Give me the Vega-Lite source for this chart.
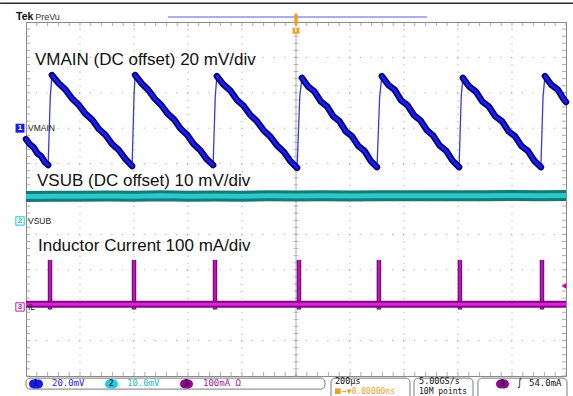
{
 "$schema": "https://vega.github.io/schema/vega-lite/v6.json",
 "width": 540, "height": 354,
 "autosize": {"type": "none"},
 "padding": {"left": 26, "top": 22, "right": 7, "bottom": 20},
 "background": "white",
 "config": {"view": {"stroke": "#8a8a8a", "strokeWidth": 1}, "axis": {"disable": true}, "text": {"font": "Liberation Sans"}},
 "data": {"values": [{}]},
 "datasets": {
  "gridx": [{"t": -800}, {"t": -600}, {"t": -400}, {"t": -200}, {"t": 200}, {"t": 400}, {"t": 600}, {"t": 800}],
  "gridy": [{"v": -4}, {"v": -3}, {"v": -2}, {"v": -1}, {"v": 1}, {"v": 2}, {"v": 3}, {"v": 4}],
  "xminor": [{"t":-1000},{"t":-960},{"t":-920},{"t":-880},{"t":-840},{"t":-800},{"t":-760},{"t":-720},{"t":-680},{"t":-640},{"t":-600},{"t":-560},{"t":-520},{"t":-480},{"t":-440},{"t":-400},{"t":-360},{"t":-320},{"t":-280},{"t":-240},{"t":-200},{"t":-160},{"t":-120},{"t":-80},{"t":-40},{"t":0},{"t":40},{"t":80},{"t":120},{"t":160},{"t":200},{"t":240},{"t":280},{"t":320},{"t":360},{"t":400},{"t":440},{"t":480},{"t":520},{"t":560},{"t":600},{"t":640},{"t":680},{"t":720},{"t":760},{"t":800},{"t":840},{"t":880},{"t":920},{"t":960},{"t":1000}],
  "yminor": [{"v":-5},{"v":-4.8},{"v":-4.6},{"v":-4.4},{"v":-4.2},{"v":-4},{"v":-3.8},{"v":-3.6},{"v":-3.4},{"v":-3.2},{"v":-3},{"v":-2.8},{"v":-2.6},{"v":-2.4},{"v":-2.2},{"v":-2},{"v":-1.8},{"v":-1.6},{"v":-1.4},{"v":-1.2},{"v":-1},{"v":-0.8},{"v":-0.6},{"v":-0.4},{"v":-0.2},{"v":0},{"v":0.2},{"v":0.4},{"v":0.6},{"v":0.8},{"v":1},{"v":1.2},{"v":1.4},{"v":1.6},{"v":1.8},{"v":2},{"v":2.2},{"v":2.4},{"v":2.6},{"v":2.8},{"v":3},{"v":3.2},{"v":3.4},{"v":3.6},{"v":3.8},{"v":4},{"v":4.2},{"v":4.4},{"v":4.6},{"v":4.8},{"v":5}],
  "vmain": [
   {"seg":"r0","part":"ramp","t":-1000,"v":1.69},{"seg":"r0","part":"ramp","t":-986,"v":1.545},{"seg":"r0","part":"ramp","t":-972,"v":1.46},{"seg":"r0","part":"ramp","t":-958,"v":1.29},{"seg":"r0","part":"ramp","t":-944,"v":1.21},{"seg":"r0","part":"ramp","t":-930,"v":1.04},{"seg":"r0","part":"ramp","t":-918,"v":0.96},
   {"seg":"s1","part":"rise","t":-918,"v":0.96},{"seg":"s1","part":"rise","t":-910,"v":2.9},{"seg":"s1","part":"rise","t":-904,"v":3.5},
   {"seg":"r1","part":"ramp","t":-904,"v":3.5},{"seg":"r1","part":"ramp","t":-879,"v":3.27},{"seg":"r1","part":"ramp","t":-854,"v":3.09},{"seg":"r1","part":"ramp","t":-830,"v":2.84},{"seg":"r1","part":"ramp","t":-805,"v":2.66},{"seg":"r1","part":"ramp","t":-780,"v":2.41},{"seg":"r1","part":"ramp","t":-755,"v":2.24},{"seg":"r1","part":"ramp","t":-731,"v":1.98},{"seg":"r1","part":"ramp","t":-706,"v":1.81},{"seg":"r1","part":"ramp","t":-681,"v":1.55},{"seg":"r1","part":"ramp","t":-656,"v":1.38},{"seg":"r1","part":"ramp","t":-632,"v":1.13},{"seg":"r1","part":"ramp","t":-607,"v":0.93},
   {"seg":"s2","part":"rise","t":-607,"v":0.93},{"seg":"s2","part":"rise","t":-600,"v":2.9},{"seg":"s2","part":"rise","t":-596,"v":3.5},
   {"seg":"r2","part":"ramp","t":-596,"v":3.5},{"seg":"r2","part":"ramp","t":-572,"v":3.27},{"seg":"r2","part":"ramp","t":-548,"v":3.09},{"seg":"r2","part":"ramp","t":-524,"v":2.84},{"seg":"r2","part":"ramp","t":-500,"v":2.66},{"seg":"r2","part":"ramp","t":-475,"v":2.41},{"seg":"r2","part":"ramp","t":-451,"v":2.24},{"seg":"r2","part":"ramp","t":-427,"v":1.98},{"seg":"r2","part":"ramp","t":-403,"v":1.81},{"seg":"r2","part":"ramp","t":-379,"v":1.55},{"seg":"r2","part":"ramp","t":-355,"v":1.38},{"seg":"r2","part":"ramp","t":-331,"v":1.13},{"seg":"r2","part":"ramp","t":-307,"v":0.96},
   {"seg":"s3","part":"rise","t":-307,"v":0.96},{"seg":"s3","part":"rise","t":-299,"v":2.9},{"seg":"s3","part":"rise","t":-293,"v":3.47},
   {"seg":"r3","part":"ramp","t":-293,"v":3.47},{"seg":"r3","part":"ramp","t":-268,"v":3.23},{"seg":"r3","part":"ramp","t":-243,"v":3.06},{"seg":"r3","part":"ramp","t":-219,"v":2.8},{"seg":"r3","part":"ramp","t":-194,"v":2.63},{"seg":"r3","part":"ramp","t":-169,"v":2.37},{"seg":"r3","part":"ramp","t":-144,"v":2.19},{"seg":"r3","part":"ramp","t":-120,"v":1.94},{"seg":"r3","part":"ramp","t":-95,"v":1.76},{"seg":"r3","part":"ramp","t":-70,"v":1.51},{"seg":"r3","part":"ramp","t":-45,"v":1.33},{"seg":"r3","part":"ramp","t":-21,"v":1.07},{"seg":"r3","part":"ramp","t":4,"v":0.88},
   {"seg":"s4","part":"rise","t":4,"v":0.88},{"seg":"s4","part":"rise","t":14,"v":2.9},{"seg":"s4","part":"rise","t":22,"v":3.42},
   {"seg":"r4","part":"ramp","t":22,"v":3.42},{"seg":"r4","part":"ramp","t":45,"v":3.175},{"seg":"r4","part":"ramp","t":68,"v":3.035},{"seg":"r4","part":"ramp","t":92,"v":2.755},{"seg":"r4","part":"ramp","t":115,"v":2.615},{"seg":"r4","part":"ramp","t":138,"v":2.335},{"seg":"r4","part":"ramp","t":161,"v":2.195},{"seg":"r4","part":"ramp","t":184,"v":1.915},{"seg":"r4","part":"ramp","t":207,"v":1.775},{"seg":"r4","part":"ramp","t":231,"v":1.495},{"seg":"r4","part":"ramp","t":254,"v":1.355},{"seg":"r4","part":"ramp","t":277,"v":1.075},{"seg":"r4","part":"ramp","t":300,"v":0.9},
   {"seg":"s5","part":"rise","t":300,"v":0.9},{"seg":"s5","part":"rise","t":310,"v":2.9},{"seg":"s5","part":"rise","t":318,"v":3.47},
   {"seg":"r5","part":"ramp","t":318,"v":3.47},{"seg":"r5","part":"ramp","t":342,"v":3.22},{"seg":"r5","part":"ramp","t":366,"v":3.08},{"seg":"r5","part":"ramp","t":389,"v":2.79},{"seg":"r5","part":"ramp","t":413,"v":2.65},{"seg":"r5","part":"ramp","t":437,"v":2.365},{"seg":"r5","part":"ramp","t":461,"v":2.22},{"seg":"r5","part":"ramp","t":485,"v":1.94},{"seg":"r5","part":"ramp","t":508,"v":1.79},{"seg":"r5","part":"ramp","t":532,"v":1.51},{"seg":"r5","part":"ramp","t":556,"v":1.365},{"seg":"r5","part":"ramp","t":580,"v":1.08},{"seg":"r5","part":"ramp","t":604,"v":0.9},
   {"seg":"s6","part":"rise","t":604,"v":0.9},{"seg":"s6","part":"rise","t":612,"v":2.9},{"seg":"s6","part":"rise","t":618,"v":3.42},
   {"seg":"r6","part":"ramp","t":618,"v":3.42},{"seg":"r6","part":"ramp","t":642,"v":3.175},{"seg":"r6","part":"ramp","t":666,"v":3.035},{"seg":"r6","part":"ramp","t":690,"v":2.755},{"seg":"r6","part":"ramp","t":714,"v":2.615},{"seg":"r6","part":"ramp","t":738,"v":2.335},{"seg":"r6","part":"ramp","t":763,"v":2.195},{"seg":"r6","part":"ramp","t":787,"v":1.915},{"seg":"r6","part":"ramp","t":811,"v":1.775},{"seg":"r6","part":"ramp","t":835,"v":1.495},{"seg":"r6","part":"ramp","t":859,"v":1.355},{"seg":"r6","part":"ramp","t":883,"v":1.075},{"seg":"r6","part":"ramp","t":907,"v":0.9},
   {"seg":"s7","part":"rise","t":907,"v":0.9},{"seg":"s7","part":"rise","t":915,"v":2.9},{"seg":"s7","part":"rise","t":922,"v":3.47},
   {"seg":"r7","part":"ramp","t":922,"v":3.47},{"seg":"r7","part":"ramp","t":946,"v":3.225},{"seg":"r7","part":"ramp","t":970,"v":3.085},{"seg":"r7","part":"ramp","t":990,"v":2.835},{"seg":"r7","part":"ramp","t":1000,"v":2.74}
  ],
  "vsub": [{"t":-1000,"v":0.07},{"t":-900,"v":0.08},{"t":-800,"v":0.075},{"t":-700,"v":0.085},{"t":-600,"v":0.08},{"t":-500,"v":0.09},{"t":-400,"v":0.08},{"t":-300,"v":0.085},{"t":-200,"v":0.08},{"t":-100,"v":0.09},{"t":0,"v":0.085},{"t":100,"v":0.09},{"t":200,"v":0.085},{"t":300,"v":0.095},{"t":400,"v":0.09},{"t":500,"v":0.09},{"t":600,"v":0.095},{"t":700,"v":0.09},{"t":800,"v":0.1},{"t":900,"v":0.095},{"t":1000,"v":0.1}],
  "ilbase": [{"t":-1000,"v":-2.97},{"t":1000,"v":-2.97}],
  "ilspike": [{"t":-911,"top":-1.72,"bottom":-3.12},{"t":-600,"top":-1.72,"bottom":-3.12},{"t":-300,"top":-1.72,"bottom":-3.12},{"t":11,"top":-1.72,"bottom":-3.12},{"t":307,"top":-1.72,"bottom":-3.12},{"t":607,"top":-1.72,"bottom":-3.12},{"t":911,"top":-1.72,"bottom":-3.12}]
 },
 "layer": [
  {"data": {"name": "gridx"}, "mark": {"type": "rule", "color": "#9a9a9a", "strokeWidth": 1, "strokeDash": [1, 6.08]},
   "encoding": {"x": {"field": "t", "type": "quantitative", "scale": {"domain": [-1000, 1000], "nice": false, "zero": false}}}},
  {"data": {"name": "gridy"}, "mark": {"type": "rule", "color": "#9a9a9a", "strokeWidth": 1, "strokeDash": [1, 9.8]},
   "encoding": {"y": {"field": "v", "type": "quantitative", "scale": {"domain": [-5, 5], "nice": false, "zero": false}}}},
  {"mark": {"type": "rule", "color": "#b0b0b0", "strokeWidth": 1}, "encoding": {"x": {"datum": 0}}},
  {"mark": {"type": "rule", "color": "#b0b0b0", "strokeWidth": 1}, "encoding": {"y": {"datum": 0}}},
  {"data": {"name": "xminor"}, "mark": {"type": "tick", "orient": "vertical", "size": 8, "thickness": 1, "color": "#8a8a8a", "clip": true},
   "encoding": {"x": {"field": "t", "type": "quantitative", "scale": {"domain": [-1000, 1000], "nice": false, "zero": false}}, "y": {"datum": 5}}},
  {"data": {"name": "xminor"}, "mark": {"type": "tick", "orient": "vertical", "size": 8, "thickness": 1, "color": "#8a8a8a", "clip": true},
   "encoding": {"x": {"field": "t", "type": "quantitative", "scale": {"domain": [-1000, 1000], "nice": false, "zero": false}}, "y": {"datum": -5}}},
  {"data": {"name": "xminor"}, "mark": {"type": "tick", "orient": "vertical", "size": 5, "thickness": 1, "color": "#9a9a9a"},
   "encoding": {"x": {"field": "t", "type": "quantitative", "scale": {"domain": [-1000, 1000], "nice": false, "zero": false}}, "y": {"datum": 0}}},
  {"data": {"name": "yminor"}, "mark": {"type": "tick", "orient": "horizontal", "size": 8, "thickness": 1, "color": "#8a8a8a", "clip": true},
   "encoding": {"y": {"field": "v", "type": "quantitative", "scale": {"domain": [-5, 5], "nice": false, "zero": false}}, "x": {"datum": -1000}}},
  {"data": {"name": "yminor"}, "mark": {"type": "tick", "orient": "horizontal", "size": 8, "thickness": 1, "color": "#8a8a8a", "clip": true},
   "encoding": {"y": {"field": "v", "type": "quantitative", "scale": {"domain": [-5, 5], "nice": false, "zero": false}}, "x": {"datum": 1000}}},
  {"data": {"name": "yminor"}, "mark": {"type": "tick", "orient": "horizontal", "size": 5, "thickness": 1, "color": "#9a9a9a"},
   "encoding": {"y": {"field": "v", "type": "quantitative", "scale": {"domain": [-5, 5], "nice": false, "zero": false}}, "x": {"datum": 0}}},

  {"mark": {"type": "rule", "color": "#2b2b2b", "strokeWidth": 1.5}, "encoding": {"x": {"datum": -1096}, "x2": {"datum": 1026}, "y": {"datum": 5.53}}},
  {"mark": {"type": "rule", "color": "#a9aef2", "strokeWidth": 2}, "encoding": {"x": {"datum": -474}, "x2": {"datum": 485}, "y": {"datum": 5.14}}},
  {"mark": {"type": "rule", "color": "#f0a02a", "strokeWidth": 3.5, "strokeCap": "round"}, "encoding": {"x": {"datum": 0}, "y": {"datum": 5.2}, "y2": {"datum": 4.95}}},
  {"mark": {"type": "point", "shape": "square", "filled": true, "color": "#f0a02a", "size": 45, "opacity": 1}, "encoding": {"x": {"datum": 0}, "y": {"datum": 4.76}}},
  {"mark": {"type": "text", "text": "T", "color": "white", "fontSize": 7, "fontWeight": "bold", "baseline": "middle", "align": "center"}, "encoding": {"x": {"datum": 0}, "y": {"datum": 4.76}}},
  {"mark": {"type": "text", "text": "Tek", "color": "#111", "fontSize": 10.5, "fontWeight": "bold", "align": "left", "baseline": "alphabetic"}, "encoding": {"x": {"datum": -1037}, "y": {"datum": 5.06}}},
  {"mark": {"type": "text", "text": "PreVu", "color": "#333", "fontSize": 9, "align": "left", "baseline": "alphabetic"}, "encoding": {"x": {"datum": -966}, "y": {"datum": 5.06}}},

  {"data": {"name": "vsub"}, "mark": {"type": "line", "color": "#127878", "strokeWidth": 11}, "encoding": {"x": {"field": "t", "type": "quantitative", "scale": {"domain": [-1000, 1000], "nice": false, "zero": false}}, "y": {"field": "v", "type": "quantitative", "scale": {"domain": [-5, 5], "nice": false, "zero": false}}}},
  {"data": {"name": "vsub"}, "mark": {"type": "line", "color": "#2cc8c8", "strokeWidth": 5}, "encoding": {"x": {"field": "t", "type": "quantitative"}, "y": {"field": "v", "type": "quantitative"}}},

  {"data": {"name": "ilspike"}, "mark": {"type": "rule", "color": "#7e0a7e", "strokeWidth": 4.5}, "encoding": {"x": {"field": "t", "type": "quantitative"}, "y": {"field": "top", "type": "quantitative"}, "y2": {"field": "bottom"}}},
  {"data": {"name": "ilspike"}, "mark": {"type": "rule", "color": "#c018c0", "strokeWidth": 1.8}, "encoding": {"x": {"field": "t", "type": "quantitative"}, "y": {"field": "top", "type": "quantitative"}, "y2": {"field": "bottom"}}},
  {"data": {"name": "ilbase"}, "mark": {"type": "line", "color": "#7e0a7e", "strokeWidth": 7}, "encoding": {"x": {"field": "t", "type": "quantitative"}, "y": {"field": "v", "type": "quantitative"}}},
  {"data": {"name": "ilbase"}, "mark": {"type": "line", "color": "#e020e0", "strokeWidth": 3}, "encoding": {"x": {"field": "t", "type": "quantitative"}, "y": {"field": "v", "type": "quantitative"}}},
  {"mark": {"type": "point", "shape": "triangle-left", "filled": true, "color": "#c000c0", "size": 30, "opacity": 1}, "encoding": {"x": {"datum": 992}, "y": {"datum": -2.46}}},

  {"data": {"name": "vmain"}, "transform": [{"filter": "datum.part === 'rise'"}], "mark": {"type": "line", "color": "#3a3ad8", "strokeWidth": 1.3}, "encoding": {"x": {"field": "t", "type": "quantitative"}, "y": {"field": "v", "type": "quantitative"}, "detail": {"field": "seg"}}},
  {"data": {"name": "vmain"}, "transform": [{"filter": "datum.part === 'ramp'"}], "mark": {"type": "line", "color": "#050570", "strokeWidth": 6.5, "strokeCap": "round"}, "encoding": {"x": {"field": "t", "type": "quantitative"}, "y": {"field": "v", "type": "quantitative"}, "detail": {"field": "seg"}}},
  {"data": {"name": "vmain"}, "transform": [{"filter": "datum.part === 'ramp'"}], "mark": {"type": "line", "color": "#1c1cf0", "strokeWidth": 3, "strokeCap": "round"}, "encoding": {"x": {"field": "t", "type": "quantitative"}, "y": {"field": "v", "type": "quantitative"}, "detail": {"field": "seg"}}},

  {"mark": {"type": "text", "text": "VMAIN (DC offset) 20 mV/div", "color": "#111", "fontSize": 17, "align": "left", "baseline": "alphabetic"}, "encoding": {"x": {"datum": -966.7}, "y": {"datum": 3.785}}},
  {"mark": {"type": "text", "text": "VSUB (DC offset) 10 mV/div", "color": "#111", "fontSize": 17, "align": "left", "baseline": "alphabetic"}, "encoding": {"x": {"datum": -959.3}, "y": {"datum": 0.367}}},
  {"mark": {"type": "text", "text": "Inductor Current 100 mA/div", "color": "#111", "fontSize": 17, "align": "left", "baseline": "alphabetic"}, "encoding": {"x": {"datum": -955.6}, "y": {"datum": -1.455}}},

  {"mark": {"type": "point", "shape": "square", "filled": true, "color": "#1a1af5", "size": 80, "opacity": 1}, "encoding": {"x": {"datum": -1022.2}, "y": {"datum": 2.0}}},
  {"mark": {"type": "text", "text": "1", "color": "white", "fontSize": 8, "fontWeight": "bold", "align": "center", "baseline": "middle"}, "encoding": {"x": {"datum": -1022.2}, "y": {"datum": 2.0}}},
  {"mark": {"type": "text", "text": "VMAIN", "color": "#222", "fontSize": 8.5, "align": "left", "baseline": "middle"}, "encoding": {"x": {"datum": -992.6}, "y": {"datum": 2.0}}},
  {"mark": {"type": "point", "shape": "square", "filled": false, "color": "#22c4d0", "strokeWidth": 1, "size": 70, "opacity": 1}, "encoding": {"x": {"datum": -1022.2}, "y": {"datum": -0.62}}},
  {"mark": {"type": "text", "text": "2", "color": "#22b8c8", "fontSize": 8, "fontWeight": "bold", "align": "center", "baseline": "middle"}, "encoding": {"x": {"datum": -1022.2}, "y": {"datum": -0.62}}},
  {"mark": {"type": "text", "text": "VSUB", "color": "#222", "fontSize": 8.5, "align": "left", "baseline": "middle"}, "encoding": {"x": {"datum": -992.6}, "y": {"datum": -0.62}}},
  {"mark": {"type": "point", "shape": "square", "filled": false, "color": "#b020b0", "strokeWidth": 1, "size": 70, "opacity": 1}, "encoding": {"x": {"datum": -1022.2}, "y": {"datum": -3.05}}},
  {"mark": {"type": "text", "text": "3", "color": "#b020b0", "fontSize": 8, "fontWeight": "bold", "align": "center", "baseline": "middle"}, "encoding": {"x": {"datum": -1022.2}, "y": {"datum": -3.05}}},
  {"mark": {"type": "text", "text": "IL", "color": "#222", "fontSize": 8.5, "align": "left", "baseline": "middle"}, "encoding": {"x": {"datum": -992.6}, "y": {"datum": -3.05}}},

  {"mark": {"type": "rect", "fill": "white", "stroke": "#7a7a7a", "strokeWidth": 1, "cornerRadius": 4}, "encoding": {"x": {"datum": -1000}, "x2": {"datum": 107.4}, "y": {"datum": -5.06}, "y2": {"datum": -5.37}}},
  {"mark": {"type": "rect", "fill": "white", "stroke": "#7a7a7a", "strokeWidth": 1, "cornerRadius": 4}, "encoding": {"x": {"datum": 129.6}, "x2": {"datum": 422.2}, "y": {"datum": -5.06}, "y2": {"datum": -5.8}}},
  {"mark": {"type": "rect", "fill": "white", "stroke": "#7a7a7a", "strokeWidth": 1, "cornerRadius": 4}, "encoding": {"x": {"datum": 437}, "x2": {"datum": 655.6}, "y": {"datum": -5.06}, "y2": {"datum": -5.8}}},
  {"mark": {"type": "rect", "fill": "white", "stroke": "#7a7a7a", "strokeWidth": 1, "cornerRadius": 4}, "encoding": {"x": {"datum": 674}, "x2": {"datum": 1003.7}, "y": {"datum": -5.06}, "y2": {"datum": -5.8}}},

  {"mark": {"type": "rect", "fill": "#1818f0", "cornerRadius": 4.5}, "encoding": {"x": {"datum": -988.9}, "x2": {"datum": -937}, "y": {"datum": -5.1}, "y2": {"datum": -5.35}}},
  {"mark": {"type": "text", "text": "1", "color": "#10104a", "fontSize": 8, "fontWeight": "bold", "align": "center", "baseline": "middle", "font": "DejaVu Sans Mono"}, "encoding": {"x": {"datum": -963}, "y": {"datum": -5.226}}},
  {"mark": {"type": "text", "text": "20.0mV", "color": "#2424e6", "fontSize": 9, "align": "left", "baseline": "alphabetic", "font": "DejaVu Sans Mono"}, "encoding": {"x": {"datum": -903.7}, "y": {"datum": -5.28}}},
  {"mark": {"type": "rect", "fill": "#22d0d8", "cornerRadius": 4.5}, "encoding": {"x": {"datum": -707.4}, "x2": {"datum": -659.3}, "y": {"datum": -5.1}, "y2": {"datum": -5.35}}},
  {"mark": {"type": "text", "text": "2", "color": "#0a3a40", "fontSize": 8, "fontWeight": "bold", "align": "center", "baseline": "middle", "font": "DejaVu Sans Mono"}, "encoding": {"x": {"datum": -683.3}, "y": {"datum": -5.226}}},
  {"mark": {"type": "text", "text": "10.0mV", "color": "#22bccc", "fontSize": 9, "align": "left", "baseline": "alphabetic", "font": "DejaVu Sans Mono"}, "encoding": {"x": {"datum": -625.9}, "y": {"datum": -5.28}}},
  {"mark": {"type": "rect", "fill": "#8e0a8e", "cornerRadius": 4.5}, "encoding": {"x": {"datum": -429.6}, "x2": {"datum": -381.5}, "y": {"datum": -5.1}, "y2": {"datum": -5.35}}},
  {"mark": {"type": "text", "text": "3", "color": "#2a002a", "fontSize": 8, "fontWeight": "bold", "align": "center", "baseline": "middle", "font": "DejaVu Sans Mono"}, "encoding": {"x": {"datum": -405.6}, "y": {"datum": -5.226}}},
  {"mark": {"type": "text", "text": "100mA Ω", "color": "#a020a0", "fontSize": 9, "align": "left", "baseline": "alphabetic", "font": "DejaVu Sans Mono"}, "encoding": {"x": {"datum": -344.4}, "y": {"datum": -5.28}}},
  {"mark": {"type": "text", "text": "200µs", "color": "#111", "fontSize": 8.5, "align": "left", "baseline": "alphabetic", "font": "DejaVu Sans Mono"}, "encoding": {"x": {"datum": 144.4}, "y": {"datum": -5.226}}},
  {"mark": {"type": "point", "shape": "square", "filled": true, "color": "#f0a020", "size": 32, "opacity": 1}, "encoding": {"x": {"datum": 155}, "y": {"datum": -5.43}}},
  {"mark": {"type": "text", "text": "→▼8.00000ns", "color": "#f0a020", "fontSize": 8, "align": "left", "baseline": "alphabetic", "font": "DejaVu Sans Mono"}, "encoding": {"x": {"datum": 170.4}, "y": {"datum": -5.503}}},
  {"mark": {"type": "text", "text": "5.00GS/s", "color": "#111", "fontSize": 8.5, "align": "left", "baseline": "alphabetic", "font": "DejaVu Sans Mono"}, "encoding": {"x": {"datum": 455.6}, "y": {"datum": -5.226}}},
  {"mark": {"type": "text", "text": "10M points", "color": "#111", "fontSize": 8, "align": "left", "baseline": "alphabetic", "font": "DejaVu Sans Mono"}, "encoding": {"x": {"datum": 455.6}, "y": {"datum": -5.503}}},
  {"mark": {"type": "rect", "fill": "#8e0a8e", "cornerRadius": 4.5}, "encoding": {"x": {"datum": 740.7}, "x2": {"datum": 788.9}, "y": {"datum": -5.1}, "y2": {"datum": -5.35}}},
  {"mark": {"type": "text", "text": "3", "color": "#2a002a", "fontSize": 8, "fontWeight": "bold", "align": "center", "baseline": "middle", "font": "DejaVu Sans Mono"}, "encoding": {"x": {"datum": 764.8}, "y": {"datum": -5.226}}},
  {"mark": {"type": "text", "text": "∫", "color": "#111", "fontSize": 10, "align": "left", "baseline": "alphabetic", "font": "DejaVu Sans"}, "encoding": {"x": {"datum": 818.5}, "y": {"datum": -5.28}}},
  {"mark": {"type": "text", "text": "54.0mA", "color": "#111", "fontSize": 9, "align": "left", "baseline": "alphabetic", "font": "DejaVu Sans Mono"}, "encoding": {"x": {"datum": 863}, "y": {"datum": -5.28}}}
 ]
}
